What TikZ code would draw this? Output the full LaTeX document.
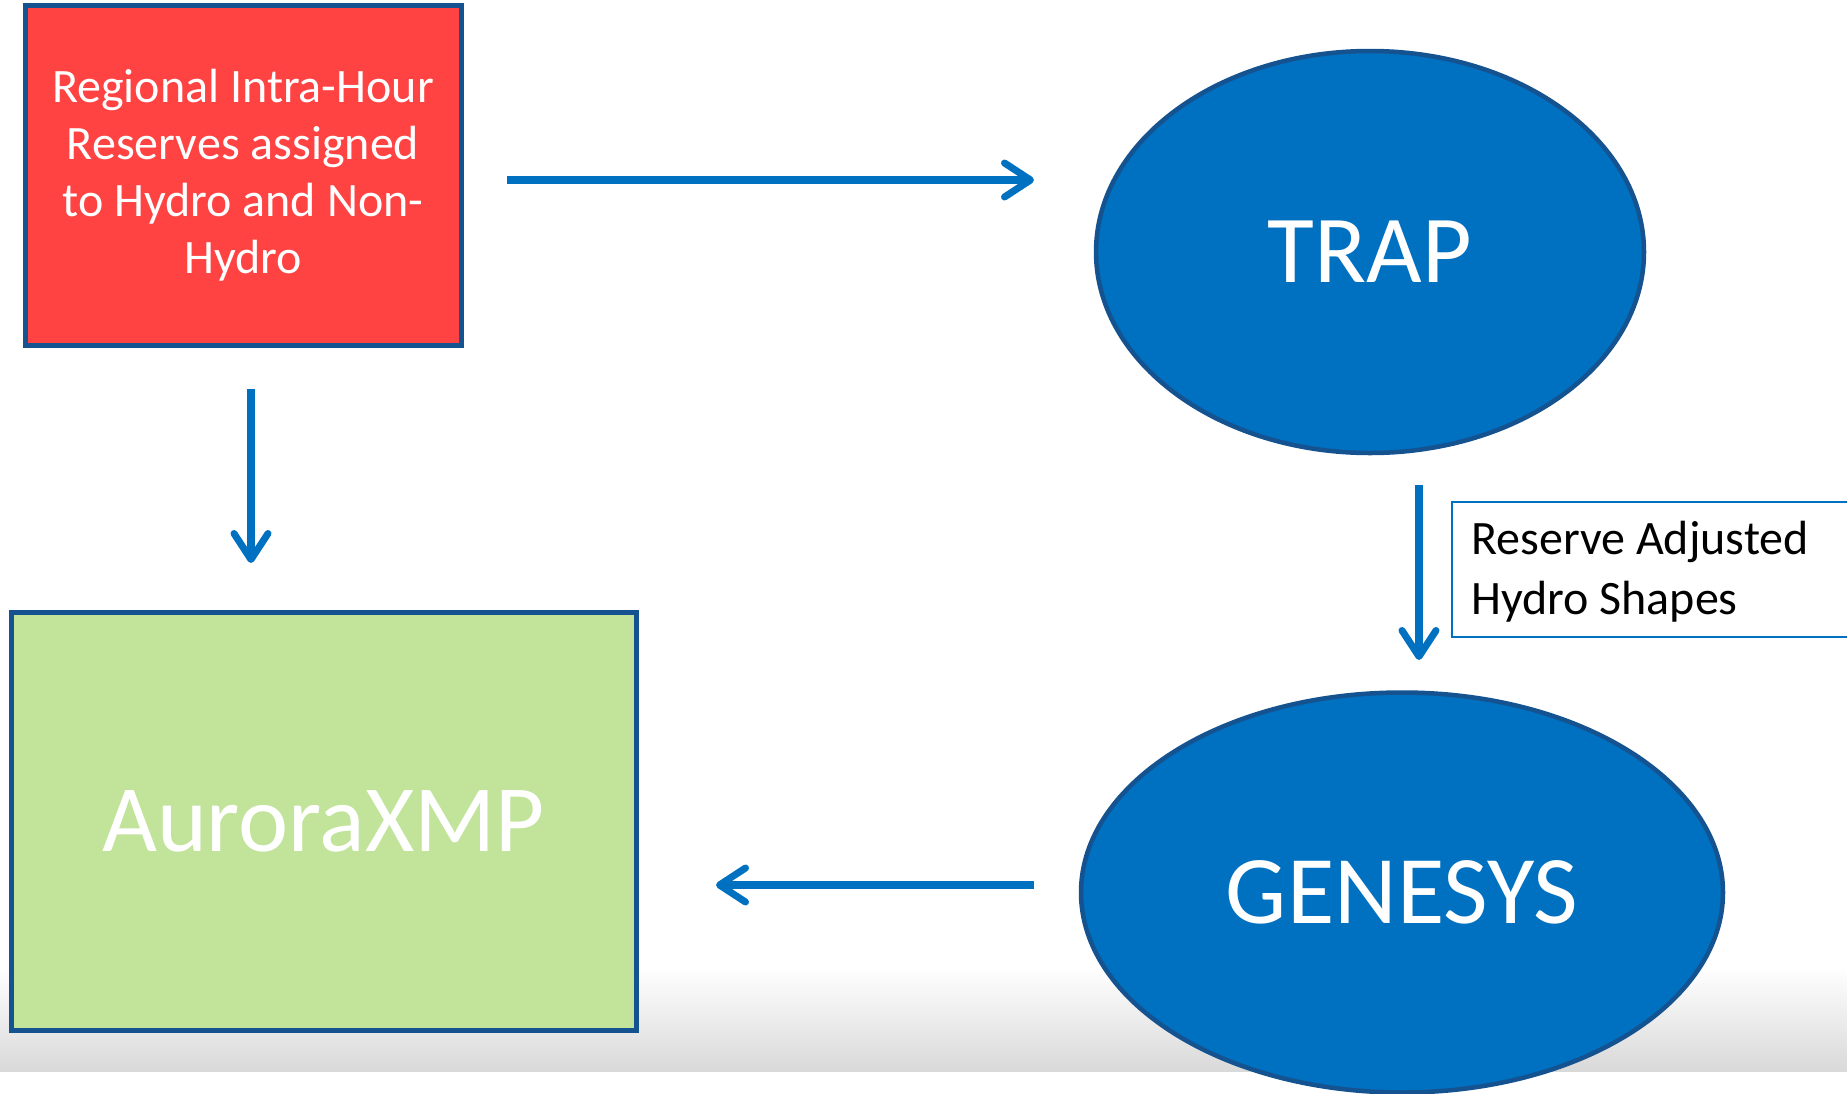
\documentclass[tikz,border=0pt]{standalone}
\usepackage{fontspec}
\setmainfont{Carlito}
\usetikzlibrary{shapes.geometric,arrows.meta}
\definecolor{edgeblue}{HTML}{145290}
\definecolor{boxred}{HTML}{FF4343}
\definecolor{boxgreen}{HTML}{C1E39A}
\definecolor{mainblue}{HTML}{0070C0}
\definecolor{bandgray}{HTML}{D9D9D9}
\tikzset{
  flowbox/.style={draw=edgeblue, line width=5pt, rectangle, inner sep=0pt, text=white, align=center},
  flowoval/.style={draw=edgeblue, line width=4.5pt, ellipse, inner sep=0pt, fill=mainblue, text=white},
  flowarrow/.style={draw=mainblue, line width=7.5pt, -{Straight Barb[length=26pt,width=34pt,line width=7pt,round]}},
  notebox/.style={draw=mainblue, line width=2pt, rectangle, inner sep=0pt, text=black, align=left, anchor=north west}
}
\begin{document}
\begin{tikzpicture}[x=1pt,y=-1pt]
\useasboundingbox (0,0) rectangle (1847,1093);
\fill[top color=white, bottom color=bandgray] (0,967) rectangle (1847,1071);
% nodes
\node[flowbox, fill=boxred, minimum width=436pt, minimum height=340pt,
      font=\fontsize{48}{57}\selectfont] (reg) at (243,175)
      {Regional Intra-Hour\\Reserves assigned\\to Hydro and Non-\\Hydro};
\node[flowoval, minimum width=548pt, minimum height=402pt,
      font=\fontsize{96}{110}\selectfont] (trap) at (1370,252) {TRAP};
\node[flowbox, fill=boxgreen, minimum width=625pt, minimum height=418pt,
      font=\fontsize{95}{110}\selectfont] (aur) at (323.5,821) {AuroraXMP};
\node[flowoval, minimum width=642pt, minimum height=400pt,
      font=\fontsize{97}{110}\selectfont] (gen) at (1402,892.5) {GENESYS};
\node[notebox, minimum width=420pt, minimum height=135pt] (note) at (1451,501) {};
\node[anchor=west, inner sep=0pt, align=left, font=\fontsize{48}{60}\selectfont] (notetext) at (1471,572)
      {Reserve Adjusted\\Hydro Shapes};
% connector end points
\coordinate (r1s) at (507,180);
\coordinate (r1e) at (1034,180);
\coordinate (d1s) at (251,389);
\coordinate (d1e) at (251,563);
\coordinate (d2s) at (1419,485);
\coordinate (d2e) at (1419,660);
\coordinate (l1s) at (1034,885);
\coordinate (l1e) at (716,885);
% connectors
\draw[flowarrow] (r1s) -- (r1e);
\draw[flowarrow] (d1s) -- (d1e);
\draw[flowarrow] (d2s) -- (d2e);
\draw[flowarrow] (l1s) -- (l1e);
\end{tikzpicture}
\end{document}
